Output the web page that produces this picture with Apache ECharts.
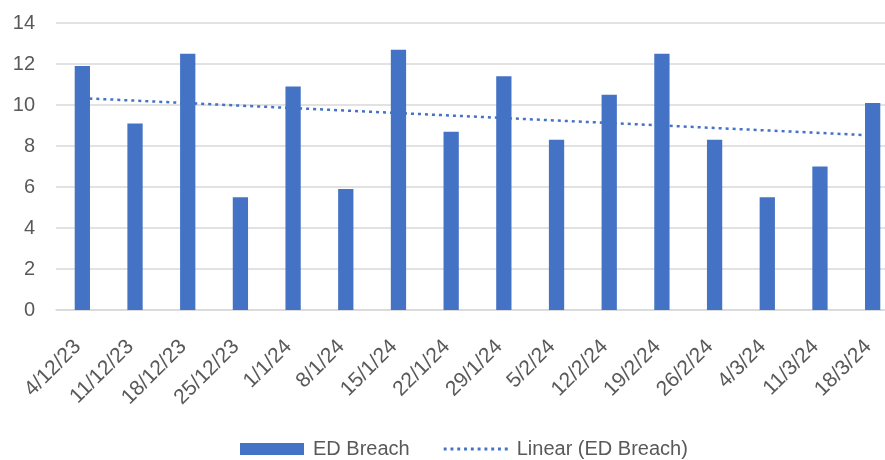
<!DOCTYPE html>
<html>
<head>
<meta charset="utf-8">
<script src="https://cdn.jsdelivr.net/npm/echarts@6/dist/echarts.min.js"></script>
<style>
  html, body { margin: 0; padding: 0; background: #ffffff; }
  #chart { width: 885px; height: 460px; }
</style>
</head>
<body>
<div id="chart"></div>
<script>
// Weekly ED breach counts
const weeks = ['4/12/23', '11/12/23', '18/12/23', '25/12/23', '1/1/24', '8/1/24', '15/1/24', '22/1/24',
               '29/1/24', '5/2/24', '12/2/24', '19/2/24', '26/2/24', '4/3/24', '11/3/24', '18/3/24'];
const edBreach = [11.9, 9.1, 12.5, 5.5, 10.9, 5.9, 12.7, 8.7, 11.4, 8.3, 10.5, 12.5, 8.3, 5.5, 7.0, 10.1];
const yTicks = { min: 0, max: 14, interval: 2 };

// Least-squares linear trend over the week index (1..n)
function linearTrend(values) {
  const n = values.length;
  let sx = 0, sy = 0, sxy = 0, sxx = 0;
  values.forEach((v, i) => {
    const x = i + 1;
    sx += x; sy += v; sxy += x * v; sxx += x * x;
  });
  const slope = (n * sxy - sx * sy) / (n * sxx - sx * sx);
  const intercept = (sy - slope * sx) / n;
  return values.map((_, i) => +(intercept + slope * (i + 1)).toFixed(4));
}
const trend = linearTrend(edBreach);

const blue = '#4472C4';
const grey = '#595959';
const font = '"Liberation Sans", Arial, sans-serif';

// Dotted-line legend swatch: a row of small squares centred in a 66x12 box
let dots = 'path://M0,0 M0,12';
for (let k = 0; k < 10; k++) dots += ' M' + (k * 7) + ',4.5h3v3h-3z';

const chart = echarts.init(document.getElementById('chart'), null, { renderer: 'canvas' });
chart.setOption({
  animation: false,
  backgroundColor: '#ffffff',
  textStyle: { fontFamily: font },
  // plot area runs slightly past the right edge of the canvas
  grid: { left: 56, top: 23, width: 843, height: 287, containLabel: false, outerBoundsMode: 'none' },
  legend: {
    top: 434,
    left: 235,
    itemGap: 34,
    itemWidth: 64,
    itemHeight: 12,
    symbolKeepAspect: false,
    textStyle: { color: grey, fontSize: 20, fontFamily: font, padding: [0, 0, 0, 4] },
    data: [
      { name: 'ED Breach', icon: 'rect' },
      { name: 'Linear (ED Breach)', icon: dots, itemStyle: { color: blue, borderWidth: 0 } }
    ]
  },
  xAxis: {
    type: 'category',
    data: weeks,
    axisLine: { show: true, lineStyle: { color: '#d9d9d9', width: 1.5 } },
    axisTick: { show: false },
    axisLabel: {
      interval: 0,
      rotate: 45,
      margin: 14,
      align: 'right',
      verticalAlign: 'top',
      padding: [0, 17, 0, 0],
      color: grey,
      fontSize: 21,
      fontFamily: font
    }
  },
  yAxis: {
    type: 'value',
    min: yTicks.min,
    max: yTicks.max,
    interval: yTicks.interval,
    axisLine: { show: false },
    axisTick: { show: false },
    axisLabel: { color: grey, fontSize: 20, margin: 21, fontFamily: font },
    splitLine: { lineStyle: { color: '#d9d9d9', width: 1.5 } }
  },
  series: [
    {
      name: 'Linear (ED Breach)',
      type: 'line',
      data: trend,
      z: 1,
      symbol: 'none',
      smooth: false,
      lineStyle: { color: blue, width: 2.5, type: [3, 4], cap: 'butt' },
      itemStyle: { color: blue }
    },
    {
      name: 'ED Breach',
      type: 'bar',
      data: edBreach,
      z: 2,
      barWidth: '29%',
      itemStyle: { color: blue }
    }
  ]
});
</script>
</body>
</html>
